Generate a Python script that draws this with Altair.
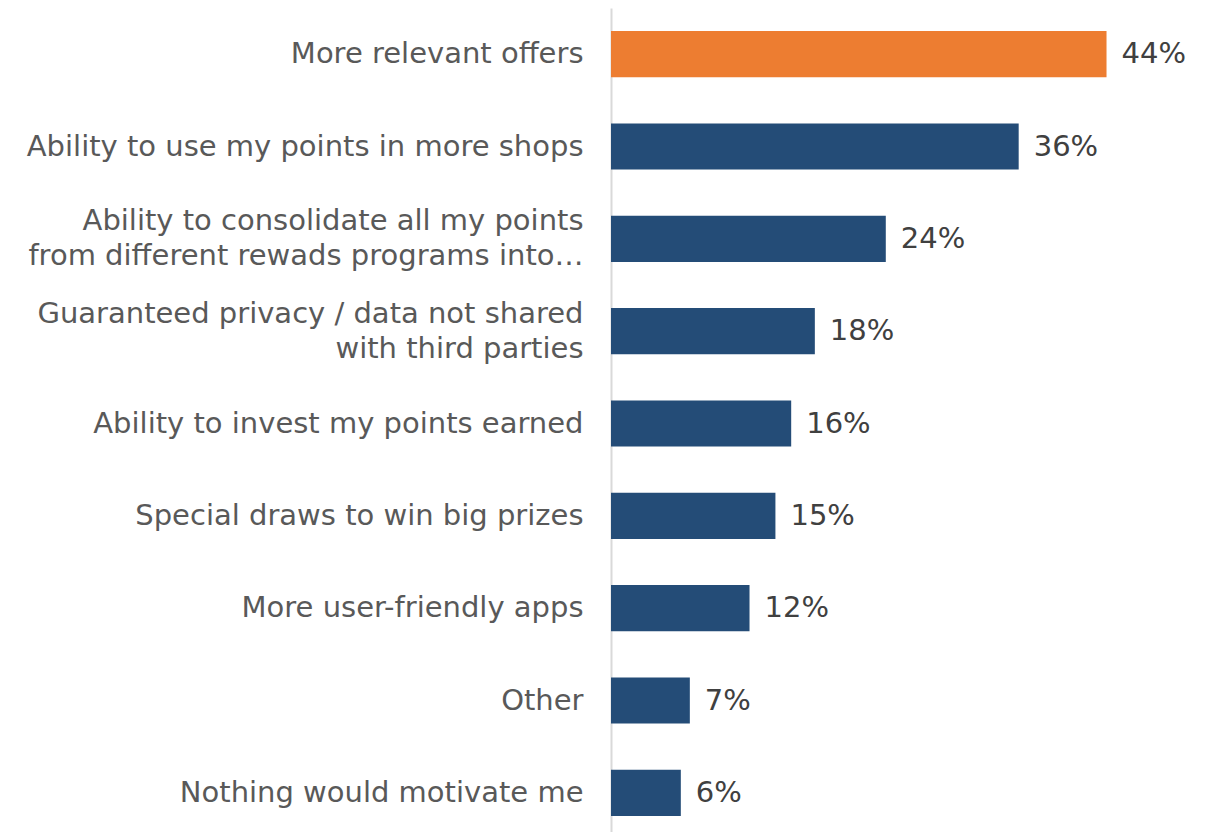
import altair as alt
import pandas as pd

categories = [
    "More relevant offers",
    "Ability to use my points in more shops",
    "Ability to consolidate all my points|from different rewads programs into…",
    "Guaranteed privacy / data not shared|with third parties",
    "Ability to invest my points earned",
    "Special draws to win big prizes",
    "More user-friendly apps",
    "Other",
    "Nothing would motivate me",
]
values = [44.0, 36.2, 24.4, 18.1, 16.0, 14.6, 12.3, 7.0, 6.2]
labels = ["44%", "36%", "24%", "18%", "16%", "15%", "12%", "7%", "6%"]
highlight = [True, False, False, False, False, False, False, False, False]

df = pd.DataFrame({"cat": categories, "val": values, "lab": labels, "hl": highlight})

FONT = "DejaVu Sans"

y_enc = alt.Y(
    "cat:N",
    sort=None,
    title=None,
    scale=alt.Scale(paddingInner=0.5, paddingOuter=0.25),
    axis=alt.Axis(
        labelExpr="split(datum.label, '|')",
        labelFont=FONT,
        labelFontSize=29,
        labelColor="#595959",
        labelLineHeight=35,
        labelPadding=28,
        labelLimit=700,
        labelOffset={"condition": {"test": "indexof(datum.label, '|') >= 0", "value": -17.5}, "value": 0},
        ticks=False,
        domain=True,
        domainColor="#D9D9D9",
        domainWidth=2,
        minExtent=603,
        maxExtent=603,
        grid=False,
    ),
)

x_enc = alt.X("val:Q", title=None, scale=alt.Scale(domain=[0, 52.3], nice=False), axis=None)

bars = alt.Chart(df).mark_bar().encode(
    x=x_enc,
    y=y_enc,
    color=alt.Color("hl:N", scale=alt.Scale(domain=[True, False], range=["#ED7D31", "#244C77"]), legend=None),
)

text = alt.Chart(df).mark_text(
    align="left", baseline="middle", dx=15, font=FONT, fontSize=29, color="#404040"
).encode(
    x=x_enc,
    y=y_enc,
    text="lab:N",
)

chart = (
    alt.layer(bars, text)
    .properties(width=589, height=831, view=alt.ViewBackground(strokeWidth=0, strokeOpacity=0))
    .configure_view(strokeWidth=0, strokeOpacity=0)
    .configure_axis(grid=False)
    .configure_axisTop(domain=False, grid=False, ticks=False, labels=False)
    .configure_axisBottom(domain=False, grid=False, ticks=False, labels=False)
    .configure(padding=0, background="white")
)

chart.save("out.html", embed_options={"renderer": "svg", "actions": False})
